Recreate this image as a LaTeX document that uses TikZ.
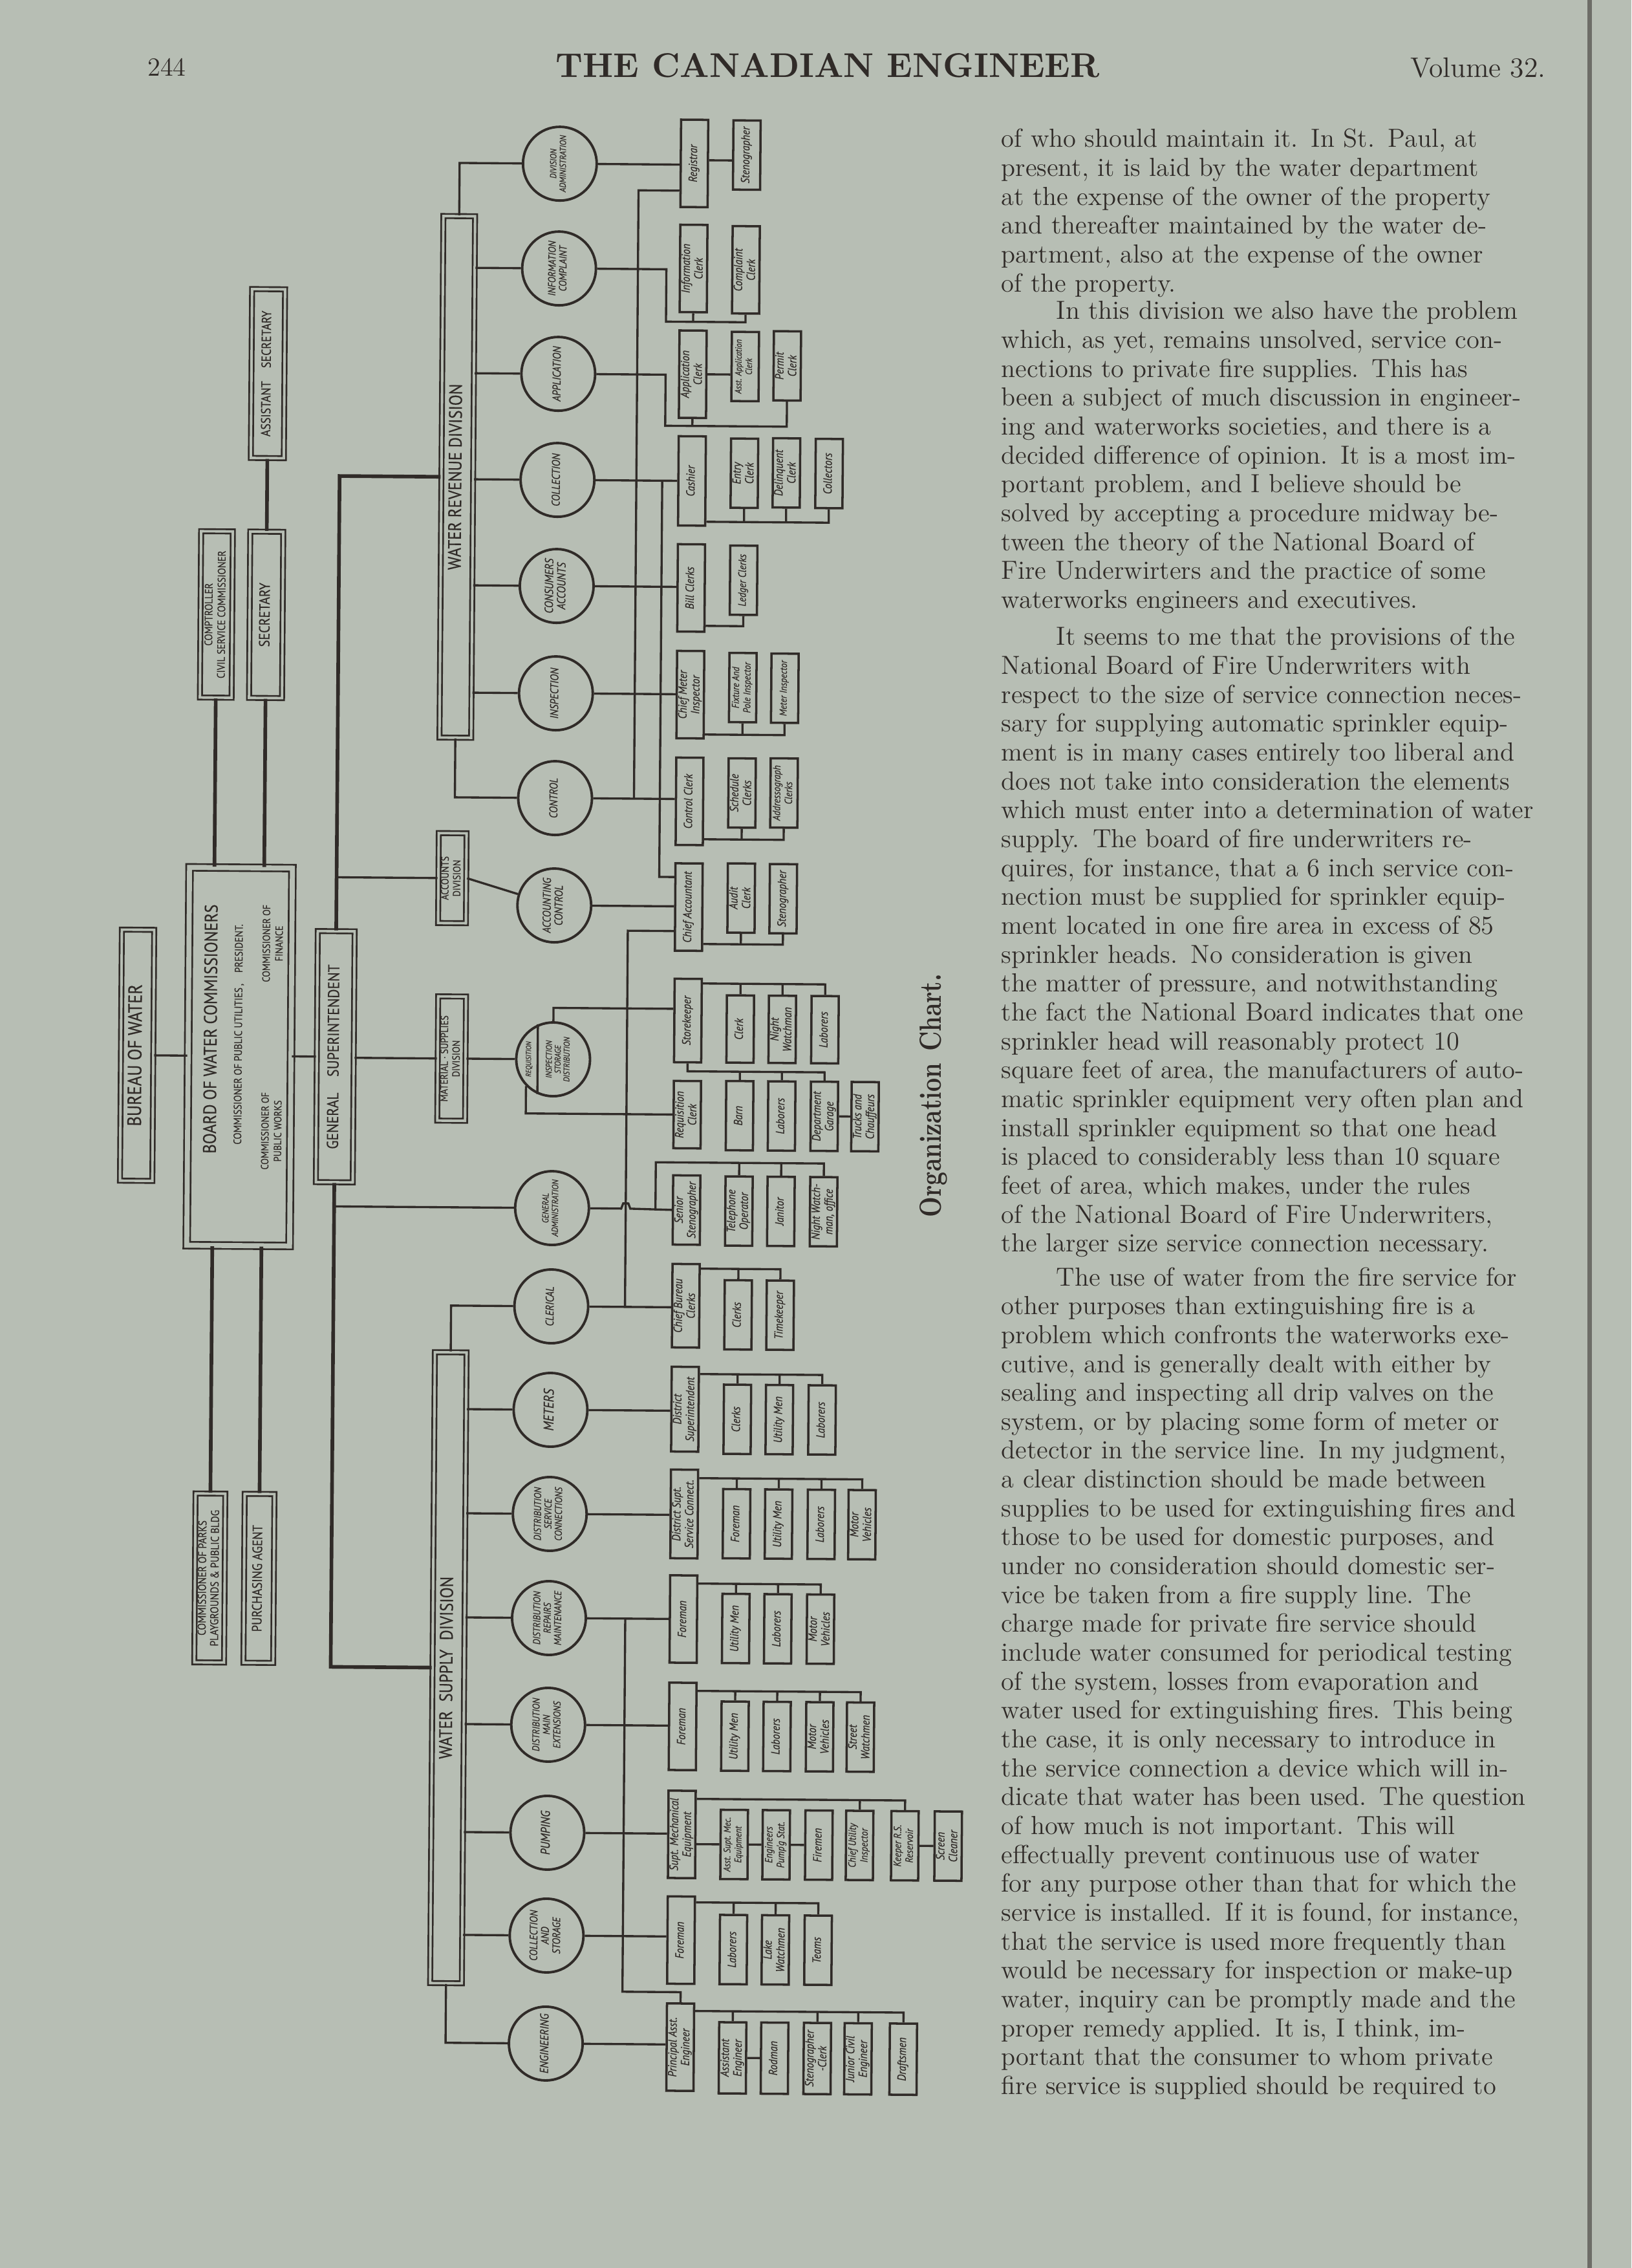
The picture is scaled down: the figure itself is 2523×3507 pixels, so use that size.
\documentclass[tikz,border=0pt]{standalone}
\usepackage{fontspec}
\usepackage{graphicx}
\newfontfamily\chartfont{PT Sans}[FakeStretch=0.88, FakeBold=0.4]
\definecolor{paper}{HTML}{B7BEB4}
\definecolor{ink}{HTML}{302B28}
\usetikzlibrary{positioning, calc}
\newcommand\vlabel[1]{\rotatebox{90}{\makebox[0pt]{\smash{\raisebox{-0.25em}{\begin{tabular}{@{}c@{}}#1\end{tabular}}}}}}
\newcommand\chf[2]{\chartfont\itshape\fontsize{#1}{#2}\selectfont}
\newcommand\chfu[2]{\chartfont\fontsize{#1}{#2}\selectfont}
\newcommand\jline[1]{\hbox to\hsize{#1}}
\newcommand\lline[1]{\hbox to\hsize{#1\hfil}}
\tikzset{
	conn/.style={
			draw=ink,
			line width=0.95pt
		},
	trunk/.style={
			draw=ink,
			line width=1.6pt
		},
	subbox/.style={
			rectangle,
			draw=ink,
			line width=1pt,
			inner sep=0pt,
			minimum width=4.2mm,
			minimum height=10.7mm,
			text=ink,
			font=\chf{5.2}{5.6}
		},
	headbox/.style={
			subbox,
			minimum height=13.5mm
		},
	unitcirc/.style={
			circle,
			draw=ink,
			line width=1.1pt,
			inner sep=0pt,
			minimum size=11.4mm,
			text=ink,
			font=\chf{4.6}{4.8}
		},
	bigunitcirc/.style={
			unitcirc,
			font=\chf{5}{5.2}
		},
	divbox/.style={
			rectangle,
			draw=ink,
			double=paper,
			double distance=1.1pt,
			line width=0.75pt,
			inner sep=0pt,
			text=ink,
			font=\chfu{8}{9}
		},
	para/.style={
			anchor=base west,
			inner sep=0pt,
			text width=8.52cm,
			text=ink,
			font=\fontsize{11.5}{12.7}\selectfont\addfontfeatures{FakeBold=0.5}
		}
}

\begin{document}
\begin{tikzpicture}[x=0.01cm, y=-0.01cm]
\useasboundingbox (0,0) rectangle (2523,3507);
\fill[paper] (0,0) rectangle (2523,3507);
\draw[ink!55!paper, line width=2pt] (2458,0) -- (2458,3507);

\node[anchor=base, text=ink, font=\fontsize{11.5}{12}\selectfont] (pageno) at (258,118) {244};
\node[anchor=base, text=ink] (masthead) at (1280,120) {\resizebox{8.41cm}{0.37cm}{\bfseries\addfontfeatures{LetterSpace=12}THE CANADIAN ENGINEER}};
\node[anchor=base, text=ink, font=\fontsize{12.4}{13}\selectfont] (volume) at (2286,120) {Volume 32.};

\begin{scope}[rotate around={-0.43:(850,1700)}, transform shape]
\node[divbox, minimum width=5mm, minimum height=38.8mm, font=\chfu{8.5}{9}] (bureau) at (211.5,1636.5) {\vlabel{BUREAU OF WATER}};
\node[divbox, double distance=2.2pt, minimum width=15.9mm, minimum height=58.4mm] (board) at (370,1637.5) {};
\node[text=ink, font=\chfu{8}{9}] (bdtitle) at (328,1595) {\vlabel{BOARD OF WATER COMMISSIONERS}};
\node[text=ink, font=\chfu{4.8}{5.2}] (bdpres) at (370,1603) {\vlabel{COMMISSIONER OF PUBLIC UTILITIES\,,\quad PRESIDENT.}};
\node[text=ink, font=\chfu{4.6}{5.6}] (bdworks) at (422,1752) {\vlabel{COMMISSIONER OF\\PUBLIC WORKS}};
\node[text=ink, font=\chfu{4.6}{5.6}] (bdfin) at (422,1462) {\vlabel{COMMISSIONER OF\\FINANCE}};
\node[divbox, minimum width=5.7mm, minimum height=38.8mm, font=\chfu{7}{7.5}] (gensup) at (518,1636.5) {\vlabel{GENERAL\quad SUPERINTENDENT}};
\node[divbox, minimum width=4.9mm, minimum height=25.7mm, font=\chfu{4.8}{5.6}] (comp) at (329,954) {\vlabel{COMPTROLLER\\CIVIL SERVICE COMMISSIONER}};
\node[divbox, minimum width=5.1mm, minimum height=25.7mm, font=\chfu{6.5}{7}] (secr) at (406,954) {\vlabel{SECRETARY}};
\node[divbox, minimum width=5.1mm, minimum height=26.1mm, font=\chfu{5.8}{6.2}] (asst) at (406,581) {\vlabel{ASSISTANT\quad SECRETARY}};
\node[divbox, minimum width=4.6mm, minimum height=26.1mm, font=\chfu{5}{5.5}] (parks) at (330,2444) {\vlabel{COMMISSIONER OF PARKS\\PLAYGROUNDS \& PUBLIC BLDG}};
\node[divbox, minimum width=4.6mm, minimum height=26.1mm, font=\chfu{6}{6.5}] (purch) at (406,2444) {\vlabel{PURCHASING AGENT}};
\node[divbox, minimum width=4.9mm, minimum height=80.6mm] (wrd) at (700,738.5) {\vlabel{WATER REVENUE DIVISION}};
\node[divbox, minimum width=4.9mm, minimum height=97.5mm] (wsd) at (700,2580) {\vlabel{WATER\enspace SUPPLY\enspace DIVISION}};
\node[divbox, minimum width=4.3mm, minimum height=13.9mm, font=\chfu{4.6}{5.2}] (acctdiv) at (697,1359) {\vlabel{ACCOUNTS\\DIVISION}};
\node[divbox, minimum width=4.3mm, minimum height=19.2mm, font=\chfu{4.6}{5.2}] (matsup) at (698,1638) {\vlabel{MATERIAL \textperiodcentered\ SUPPLIES\\DIVISION}};

\node[unitcirc, font=\chf{3.9}{4.2}] (divadm) at (855,253) {\vlabel{DIVISION\\ADMINISTRATION}};
\node[unitcirc] (infocomp) at (855,415) {\vlabel{INFORMATION\\COMPLAINT}};
\node[bigunitcirc] (applic) at (855,578) {\vlabel{APPLICATION}};
\node[bigunitcirc] (collect) at (855,742) {\vlabel{COLLECTION}};
\node[unitcirc, font=\chf{5.2}{5.4}] (consacc) at (855,906) {\vlabel{CONSUMERS\\ACCOUNTS}};
\node[bigunitcirc] (inspect) at (855,1072) {\vlabel{INSPECTION}};
\node[bigunitcirc] (control) at (855,1234) {\vlabel{CONTROL}};
\node[unitcirc, font=\chf{5}{5.2}] (acctctl) at (855,1400) {\vlabel{ACCOUNTING\\CONTROL}};
\node[unitcirc] (req) at (855,1638) {};
\node[text=ink, font=\chf{3.2}{3.4}] (reqtxt) at (820,1638) {\vlabel{REQUISITION}};
\node[text=ink, font=\chf{3.7}{3.9}] (insptxt) at (865,1638) {\vlabel{INSPECTION\\STORAGE\\DISTRIBUTION}};
\node[unitcirc, font=\chf{3.9}{4.2}] (genadm) at (855,1868) {\vlabel{GENERAL\\ADMINISTRATION}};
\node[bigunitcirc] (clerical) at (855,2020) {\vlabel{CLERICAL}};
\node[bigunitcirc, font=\chf{6.2}{6.4}] (meters) at (855,2180) {\vlabel{METERS}};
\node[unitcirc, font=\chf{4.4}{4.6}] (distsvc) at (855,2341) {\vlabel{DISTRIBUTION\\SERVICE\\CONNECTIONS}};
\node[unitcirc, font=\chf{4.4}{4.6}] (distrep) at (855,2502) {\vlabel{DISTRIBUTION\\REPAIRS\\MAINTENANCE}};
\node[unitcirc, font=\chf{4.4}{4.6}] (distmain) at (855,2667) {\vlabel{DISTRIBUTION\\MAIN\\EXTENSIONS}};
\node[bigunitcirc, font=\chf{5.6}{5.8}] (pumping) at (855,2834) {\vlabel{PUMPING}};
\node[unitcirc, font=\chf{4.8}{5}] (collstor) at (855,2993) {\vlabel{COLLECTION\\AND\\STORAGE}};
\node[bigunitcirc, font=\chf{5.2}{5.4}] (engin) at (855,3160) {\vlabel{ENGINEERING}};

\node[headbox] (reg) at (1063,251) {\vlabel{Registrar}};
\node[subbox] (steno1) at (1144,237.5) {\vlabel{Stenographer}};
\node[headbox] (infoclk) at (1063,413.5) {\vlabel{Information\\Clerk}};
\node[headbox] (compclk) at (1144,415) {\vlabel{Complaint\\Clerk}};
\node[headbox] (appclk) at (1063,577) {\vlabel{Application\\Clerk}};
\node[subbox, font=\chf{4}{4.6}] (asstapp) at (1144,564.5) {\vlabel{Asst. Application\\Clerk}};
\node[subbox] (permit) at (1209,563) {\vlabel{Permit\\Clerk}};
\node[headbox, minimum height=13.8mm] (cashier) at (1063,742) {\vlabel{Cashier}};
\node[subbox] (entry) at (1144,729.5) {\vlabel{Entry\\Clerk}};
\node[subbox] (delinq) at (1209,728.5) {\vlabel{Delinquent\\Clerk}};
\node[subbox] (collectors) at (1275,729) {\vlabel{Collectors}};
\node[headbox] (bill) at (1063,907.5) {\vlabel{Bill Clerks}};
\node[subbox, font=\chf{4.8}{5.4}] (ledger) at (1144,895) {\vlabel{Ledger Clerks}};
\node[headbox] (chiefmtr) at (1063,1072.5) {\vlabel{Chief Meter\\Inspector}};
\node[subbox, font=\chf{4.4}{5}] (fixture) at (1144,1061) {\vlabel{Fixture And\\Pole Inspector}};
\node[subbox, font=\chf{4.4}{5}] (mtrinsp) at (1209,1061.5) {\vlabel{Meter Inspector}};
\node[headbox] (ctlclk) at (1063,1237.5) {\vlabel{Control Clerk}};
\node[subbox] (sched) at (1144,1224) {\vlabel{Schedule\\Clerks}};
\node[subbox, font=\chf{4.6}{5.2}] (addr) at (1209,1223.5) {\vlabel{Addressograph\\Clerks}};
\node[headbox] (chiefacct) at (1063,1401) {\vlabel{Chief Accountant}};
\node[subbox] (audit) at (1144,1386.5) {\vlabel{Audit\\Clerk}};
\node[subbox] (steno2) at (1209,1387) {\vlabel{Stenographer}};
\node[headbox, minimum height=12.9mm] (storekpr) at (1063,1576.5) {\vlabel{Storekeeper}};
\node[subbox, minimum height=10.4mm] (clerk9) at (1144,1589) {\vlabel{Clerk}};
\node[subbox, minimum height=10.4mm] (nightw9) at (1209,1589) {\vlabel{Night\\Watchman}};
\node[subbox, minimum height=10.4mm] (labor9a) at (1275,1589) {\vlabel{Laborers}};
\node[subbox, minimum height=10.4mm] (reqclk) at (1063,1722) {\vlabel{Requisition\\Clerk}};
\node[subbox] (barn) at (1144,1723) {\vlabel{Barn}};
\node[subbox] (labor9b) at (1209,1723) {\vlabel{Laborers}};
\node[subbox] (garage) at (1275,1723) {\vlabel{Department\\Garage}};
\node[subbox] (trucks) at (1338,1723) {\vlabel{Trucks and\\Chauffeurs}};
\node[subbox] (senior) at (1063,1869.5) {\vlabel{Senior\\Stenographer}};
\node[subbox] (teleop) at (1144,1870.5) {\vlabel{Telephone\\Operator}};
\node[subbox] (janitor) at (1209,1870.5) {\vlabel{Janitor}};
\node[subbox] (nightoff) at (1275,1870.5) {\vlabel{Night Watch-\\man, office}};
\node[headbox, minimum height=12.9mm] (chiefbur) at (1063,2017.5) {\vlabel{Chief Bureau\\Clerks}};
\node[subbox] (clerks11) at (1144,2031) {\vlabel{Clerks}};
\node[subbox] (timekpr) at (1209,2031) {\vlabel{Timekeeper}};
\node[headbox, minimum height=13.1mm] (distsupt) at (1063,2177.5) {\vlabel{District\\Superintendent}};
\node[subbox] (clerks12) at (1144,2192.5) {\vlabel{Clerks}};
\node[subbox] (util12) at (1209,2192.5) {\vlabel{Utility Men}};
\node[subbox] (labor12) at (1275,2192.5) {\vlabel{Laborers}};
\node[headbox, minimum height=13.7mm] (dsc) at (1063,2339.5) {\vlabel{District Supt.\\Service Connect.}};
\node[subbox] (foreman13) at (1144,2354) {\vlabel{Foreman}};
\node[subbox] (util13) at (1209,2354) {\vlabel{Utility Men}};
\node[subbox] (labor13) at (1275,2354) {\vlabel{Laborers}};
\node[subbox] (motor13) at (1338,2354) {\vlabel{Motor\\Vehicles}};
\node[headbox] (foreman14) at (1063,2502) {\vlabel{Foreman}};
\node[subbox] (util14) at (1144,2516) {\vlabel{Utility Men}};
\node[subbox] (labor14) at (1209,2516) {\vlabel{Laborers}};
\node[subbox] (motor14) at (1275,2516) {\vlabel{Motor\\Vehicles}};
\node[headbox] (foreman15) at (1063,2668) {\vlabel{Foreman}};
\node[subbox] (util15) at (1144,2682.5) {\vlabel{Utility Men}};
\node[subbox] (labor15) at (1209,2682.5) {\vlabel{Laborers}};
\node[subbox] (motor15) at (1275,2682.5) {\vlabel{Motor\\Vehicles}};
\node[subbox] (street15) at (1338,2682.5) {\vlabel{Street\\Watchmen}};
\node[headbox] (suptmech) at (1063,2835) {\vlabel{Supt. Mechanical\\Equipment}};
\node[subbox, font=\chf{4.2}{4.8}] (asstmech) at (1144,2850) {\vlabel{Asst. Supt. Mec.\\Equipment}};
\node[subbox, font=\chf{4.6}{5.2}] (engpump) at (1209,2850) {\vlabel{Engineers\\Pump'g Stat.}};
\node[subbox] (firemen) at (1275,2850) {\vlabel{Firemen}};
\node[subbox, font=\chf{4.6}{5.2}] (chiefutil) at (1338,2850) {\vlabel{Chief Utility\\Inspector}};
\node[subbox, font=\chf{4.6}{5.2}] (keeper) at (1408,2850) {\vlabel{Keeper R.S.\\Reservoir}};
\node[subbox] (screen) at (1475,2850) {\vlabel{Screen\\Cleaner}};
\node[headbox] (foreman17) at (1063,2998.5) {\vlabel{Foreman}};
\node[subbox] (labor17) at (1144,3012.5) {\vlabel{Laborers}};
\node[subbox] (lake17) at (1209,3012.5) {\vlabel{Lake\\Watchmen}};
\node[subbox] (teams17) at (1275,3012.5) {\vlabel{Teams}};
\node[headbox] (princ) at (1063,3164) {\vlabel{Principal Asst.\\Engineer}};
\node[subbox, minimum height=11mm] (asstengr) at (1144,3180) {\vlabel{Assistant\\Engineer}};
\node[subbox, minimum height=11mm] (rodman) at (1209,3180) {\vlabel{Rodman}};
\node[subbox, minimum height=11mm] (stenoclk) at (1275,3180) {\vlabel{Stenographer\\-Clerk}};
\node[subbox, minimum height=11mm] (junior) at (1338,3180) {\vlabel{Junior Civil\\Engineer}};
\node[subbox, minimum height=11mm] (drafts) at (1408,3180) {\vlabel{Draftsmen}};

\coordinate (b1) at (1100,246);
\coordinate (b2) at (1021,496);
\coordinate (b3) at (1021,657);
\coordinate (b4) at (1100,805);
\coordinate (b5) at (1100,966);
\coordinate (b6) at (1100,1134);
\coordinate (b7) at (1100,1296);
\coordinate (b8) at (1100,1458);
\coordinate (b9a) at (1100,1519);
\coordinate (b9b) at (1100,1655);
\coordinate (b10) at (1015,1796);
\coordinate (j10) at (1015,1868);
\coordinate (b11) at (1100,1960);
\coordinate (b12) at (1100,2123);
\coordinate (b13) at (1100,2284);
\coordinate (b14) at (1100,2447);
\coordinate (b15) at (1100,2613);
\coordinate (b16) at (1100,2780);
\coordinate (b17) at (1100,2940);
\coordinate (b18) at (1100,3108);
\coordinate (j1) at (977,1234);
\coordinate (j2) at (1017,742);
\coordinate (j3) at (969,2020);
\coordinate (j5) at (973,2502);
\coordinate (j5b) at (973,3079);

\draw[conn] (bureau.east) -- (bureau.east -| board.west);
\draw[conn] (board.east |- gensup) -- (gensup.west);
\draw[trunk] (comp.south) -- (comp.south |- board.north);
\draw[trunk] (secr.south) -- (secr.south |- board.north);
\draw[trunk] (secr.north) -- (asst.south);
\draw[trunk] (parks.north) -- (parks.north |- board.south);
\draw[trunk] (purch.north) -- (purch.north |- board.south);
\draw[trunk] (gensup.north) |- (wrd.west);
\draw[trunk] (gensup.south) |- (wsd.west);
\draw[conn] (gensup.north |- acctdiv) -- (acctdiv.west);
\draw[conn] (gensup.south |- genadm) -- (genadm.west);
\draw[conn] (gensup.east |- matsup) -- (matsup.west);
\draw[conn] (matsup.east) -- (req.west);
\draw[conn] (acctdiv.east) -- (acctctl);

\draw[conn] (wrd.north) |- (divadm.west);
\draw[conn] (wrd.south) |- (control.west);
\draw[conn] (wrd.east |- infocomp) -- (infocomp.west);
\draw[conn] (wrd.east |- applic) -- (applic.west);
\draw[conn] (wrd.east |- collect) -- (collect.west);
\draw[conn] (wrd.east |- consacc) -- (consacc.west);
\draw[conn] (wrd.east |- inspect) -- (inspect.west);
\draw[conn] (wsd.north) |- (clerical.west);
\draw[conn] (wsd.south) |- (engin.west);
\draw[conn] (wsd.east |- meters) -- (meters.west);
\draw[conn] (wsd.east |- distsvc) -- (distsvc.west);
\draw[conn] (wsd.east |- distrep) -- (distrep.west);
\draw[conn] (wsd.east |- distmain) -- (distmain.west);
\draw[conn] (wsd.east |- pumping) -- (pumping.west);
\draw[conn] (wsd.east |- collstor) -- (collstor.west);

\draw[conn] (divadm.east) -- (divadm.east -| reg.west);
\draw[conn] (reg.east |- b1) -- (steno1.west |- b1);
\draw[conn] ([yshift=2.7mm]reg.south west) -| (j1);

\draw[conn] (infocomp.east) -| (b2) -| (compclk.south);
\draw[conn] (infoclk.south) -- (infoclk.south |- b2);

\draw[conn] (applic.east) -| (b3) -| (permit.south);
\draw[conn] (appclk.south) -- (appclk.south |- b3);
\draw[conn] (appclk.east) -- (appclk.east -| asstapp.west);

\draw[conn] (collect.east) -- (collect.east -| cashier.west);
\draw[conn] (cashier.east |- b4) -| (collectors.south);
\draw[conn] (entry.south) -- (entry.south |- b4);
\draw[conn] (delinq.south) -- (delinq.south |- b4);
\draw[conn] (j2) |- ([yshift=-2.3mm]chiefacct.north west);

\draw[conn] (consacc.east) -- (consacc.east -| bill.west);
\draw[conn] (bill.east |- b5) -| (ledger.south);

\draw[conn] (inspect.east) -- (inspect.east -| chiefmtr.west);
\draw[conn] (chiefmtr.east |- b6) -| (mtrinsp.south);
\draw[conn] (fixture.south) -- (fixture.south |- b6);

\draw[conn] (control.east) -- (control.east -| ctlclk.west);
\draw[conn] (ctlclk.east |- b7) -| (addr.south);
\draw[conn] (sched.south) -- (sched.south |- b7);

\draw[conn] (acctctl.east) -- (acctctl.east -| chiefacct.west);
\draw[conn] (chiefacct.east |- b8) -| (steno2.south);
\draw[conn] (audit.south) -- (audit.south |- b8);
\draw[conn] ([yshift=3.2mm]chiefacct.south west) -| (j3);

\draw[conn] (req.114) -- (req.246);
\draw[conn] (req.north) |- ([yshift=1.8mm]storekpr.west);
\draw[conn] (req.south west) |- (reqclk.west);
\draw[conn] (storekpr.east |- b9a) -| (labor9a.north);
\draw[conn] (clerk9.north) -- (clerk9.north |- b9a);
\draw[conn] (nightw9.north) -- (nightw9.north |- b9a);
\draw[conn] (storekpr.south) -- (storekpr.south |- b9b) -| (garage.north);
\draw[conn] (barn.north) -- (barn.north |- b9b);
\draw[conn] (labor9b.north) -- (labor9b.north |- b9b);
\draw[conn] (garage) -- (trucks);

\draw[conn] (genadm.east) -- (962,1868) -- (965,1860) -- (973,1860) -- (976,1868) -- (senior.west);
\draw[conn] (j10) -- (b10) -| (nightoff.north);
\draw[conn] (teleop.north) -- (teleop.north |- b10);
\draw[conn] (janitor.north) -- (janitor.north |- b10);

\draw[conn] (clerical.east) -- (clerical.east -| chiefbur.west);
\draw[conn] (chiefbur.east |- b11) -| (timekpr.north);
\draw[conn] (clerks11.north) -- (clerks11.north |- b11);

\draw[conn] (meters.east) -- (meters.east -| distsupt.west);
\draw[conn] (distsupt.east |- b12) -| (labor12.north);
\draw[conn] (clerks12.north) -- (clerks12.north |- b12);
\draw[conn] (util12.north) -- (util12.north |- b12);

\draw[conn] (distsvc.east) -- (distsvc.east -| dsc.west);
\draw[conn] (dsc.east |- b13) -| (motor13.north);
\draw[conn] (foreman13.north) -- (foreman13.north |- b13);
\draw[conn] (util13.north) -- (util13.north |- b13);
\draw[conn] (labor13.north) -- (labor13.north |- b13);

\draw[conn] (distrep.east) -- (distrep.east -| foreman14.west);
\draw[conn] (foreman14.east |- b14) -| (motor14.north);
\draw[conn] (util14.north) -- (util14.north |- b14);
\draw[conn] (labor14.north) -- (labor14.north |- b14);
\draw[conn] (j5) -- (j5b) -| (princ.north);

\draw[conn] (distmain.east) -- (distmain.east -| foreman15.west);
\draw[conn] (foreman15.east |- b15) -| (street15.north);
\draw[conn] (util15.north) -- (util15.north |- b15);
\draw[conn] (labor15.north) -- (labor15.north |- b15);
\draw[conn] (motor15.north) -- (motor15.north |- b15);

\draw[conn] (pumping.east) -- (pumping.east -| suptmech.west);
\draw[conn] (suptmech.east |- b16) -| (keeper.north);
\draw[conn] (chiefutil.north) -- (chiefutil.north |- b16);
\draw[conn] (suptmech.east |- asstmech) -- (asstmech.west);
\draw[conn] (asstmech) -- (engpump);
\draw[conn] (engpump) -- (firemen);
\draw[conn] (keeper) -- (screen);

\draw[conn] (collstor.east) -- (collstor.east -| foreman17.west);
\draw[conn] (foreman17.east |- b17) -| (teams17.north);
\draw[conn] (labor17.north) -- (labor17.north |- b17);
\draw[conn] (lake17.north) -- (lake17.north |- b17);

\draw[conn] (engin.east) -- (engin.east -| princ.west);
\draw[conn] (princ.east |- b18) -| (drafts.north);
\draw[conn] (asstengr.north) -- (asstengr.north |- b18);
\draw[conn] (stenoclk.north) -- (stenoclk.north |- b18);
\draw[conn] (junior.north) -- (junior.north |- b18);
\draw[conn] (asstengr) -- (rodman);
\end{scope}

\node[text=ink, font=\bfseries] (caption) at (1444,1694) {\rotatebox{90}{\resizebox{3.76cm}{0.33cm}{Organization\hspace{0.5em}Chart.}}};

\node[para] (p1) at (1548,228) {%
\jline{of who should maintain it. In St. Paul, at}
\jline{present, it is laid by the water department}
\jline{at the expense of the owner of the property}
\jline{and thereafter maintained by the water de-}
\jline{partment, also at the expense of the owner}
\lline{of the property.}};

\node[para] (p2) at (1548,494) {%
\jline{\hskip8.5mm In this division we also have the problem}
\jline{which, as yet, remains unsolved, service con-}
\jline{nections to private fire supplies. This has}
\jline{been a subject of much discussion in engineer-}
\jline{ing and waterworks societies, and there is a}
\jline{decided difference of opinion. It is a most im-}
\jline{portant problem, and I believe should be}
\jline{solved by accepting a procedure midway be-}
\jline{tween the theory of the National Board of}
\jline{Fire Underwirters and the practice of some}
\lline{waterworks engineers and executives.}};

\node[para] (p3) at (1548,998) {%
\jline{\hskip8.5mm It seems to me that the provisions of the}
\jline{National Board of Fire Underwriters with}
\jline{respect to the size of service connection neces-}
\jline{sary for supplying automatic sprinkler equip-}
\jline{ment is in many cases entirely too liberal and}
\jline{does not take into consideration the elements}
\jline{which must enter into a determination of water}
\jline{supply. The board of fire underwriters re-}
\jline{quires, for instance, that a 6 inch service con-}
\jline{nection must be supplied for sprinkler equip-}
\jline{ment located in one fire area in excess of 85}
\jline{sprinkler heads. No consideration is given}
\jline{the matter of pressure, and notwithstanding}
\jline{the fact the National Board indicates that one}
\jline{sprinkler head will reasonably protect 10}
\jline{square feet of area, the manufacturers of auto-}
\jline{matic sprinkler equipment very often plan and}
\jline{install sprinkler equipment so that one head}
\jline{is placed to considerably less than 10 square}
\jline{feet of area, which makes, under the rules}
\jline{of the National Board of Fire Underwriters,}
\lline{the larger size service connection necessary.}};

\node[para] (p4) at (1548,1988) {%
\jline{\hskip8.5mm The use of water from the fire service for}
\jline{other purposes than extinguishing fire is a}
\jline{problem which confronts the waterworks exe-}
\jline{cutive, and is generally dealt with either by}
\jline{sealing and inspecting all drip valves on the}
\jline{system, or by placing some form of meter or}
\jline{detector in the service line. In my judgment,}
\jline{a clear distinction should be made between}
\jline{supplies to be used for extinguishing fires and}
\jline{those to be used for domestic purposes, and}
\jline{under no consideration should domestic ser-}
\jline{vice be taken from a fire supply line. The}
\jline{charge made for private fire service should}
\jline{include water consumed for periodical testing}
\jline{of the system, losses from evaporation and}
\jline{water used for extinguishing fires. This being}
\jline{the case, it is only necessary to introduce in}
\jline{the service connection a device which will in-}
\jline{dicate that water has been used. The question}
\jline{of how much is not important. This will}
\jline{effectually prevent continuous use of water}
\jline{for any purpose other than that for which the}
\jline{service is installed. If it is found, for instance,}
\jline{that the service is used more frequently than}
\jline{would be necessary for inspection or make-up}
\jline{water, inquiry can be promptly made and the}
\jline{proper remedy applied. It is, I think, im-}
\jline{portant that the consumer to whom private}
\jline{fire service is supplied should be required to}};
\end{tikzpicture}
\end{document}
